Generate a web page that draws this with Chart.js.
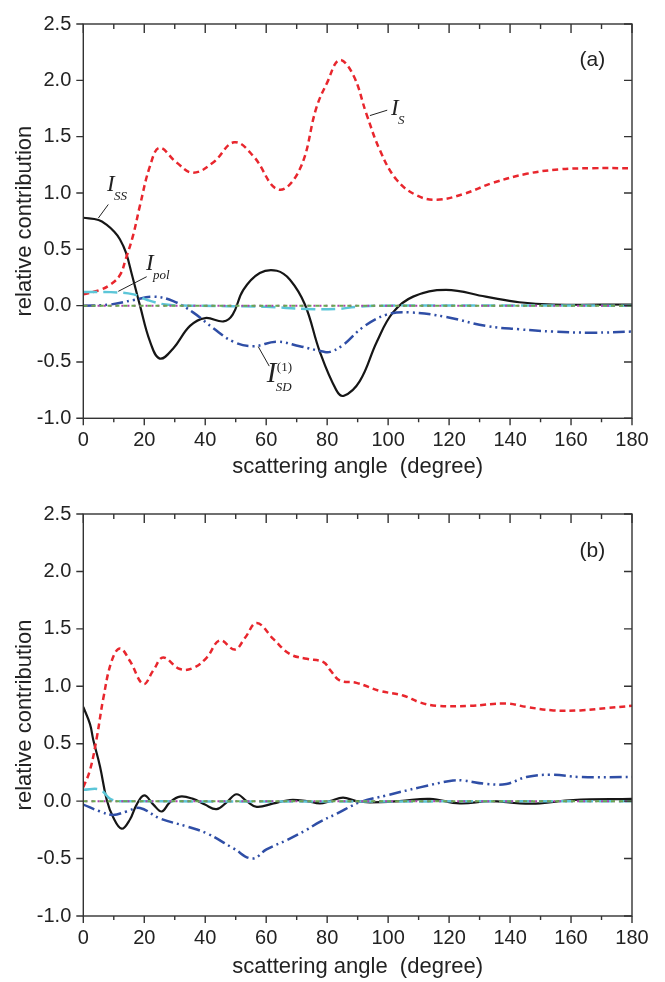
<!DOCTYPE html>
<html>
<head>
<meta charset="utf-8">
<script src="https://cdn.jsdelivr.net/npm/chart.js@4.4.1/dist/chart.umd.min.js"></script>
<style>
body { margin: 0; background: #fff; }
canvas { display: block; }
</style>
</head>
<body>
<canvas id="chartA" width="665" height="490"></canvas>
<canvas id="chartB" width="665" height="492"></canvas>
<script>
// panel (a)
var aSAngle = [0, 5.5, 9, 12, 14, 16.4, 18.6, 21.9, 25, 30.6, 36, 42.6, 49.5, 55.7, 64, 71, 76.5, 80, 84, 88.5, 92.9, 97.3, 102.7, 109.3, 116, 124.6, 134.4, 145.4, 156.3, 167, 180];
var aSValue = [0.10, 0.14, 0.19, 0.27, 0.42, 0.63, 0.89, 1.24, 1.40, 1.27, 1.18, 1.27, 1.45, 1.33, 1.03, 1.21, 1.76, 1.98, 2.18, 2.05, 1.70, 1.38, 1.12, 0.98, 0.94, 0.99, 1.09, 1.17, 1.21, 1.22, 1.22];

var aSSAngle = [0, 5, 8, 10, 12, 14, 16, 18.6, 21.9, 25.1, 29.5, 35, 40, 46, 49, 52.5, 57.9, 63.5, 67.8, 72.7, 77.6, 83, 85.5, 90.7, 96.3, 101.6, 108.2, 119, 132, 143, 154, 180];
var aSSValue = [0.78, 0.76, 0.71, 0.66, 0.59, 0.47, 0.27, 0.0, -0.32, -0.47, -0.38, -0.18, -0.11, -0.14, -0.08, 0.14, 0.29, 0.31, 0.23, 0.01, -0.41, -0.75, -0.80, -0.67, -0.32, -0.06, 0.08, 0.14, 0.08, 0.03, 0.01, 0.01];

var aSDAngle = [0, 8.8, 16.5, 23, 29.5, 36, 42.6, 49.2, 55.7, 63.4, 71, 79, 81, 85.2, 91.8, 99.5, 107, 119, 132, 143, 154, 167, 180];
var aSDValue = [0.0, 0.01, 0.05, 0.08, 0.04, -0.06, -0.20, -0.32, -0.36, -0.32, -0.36, -0.41, -0.41, -0.35, -0.19, -0.08, -0.06, -0.10, -0.18, -0.21, -0.23, -0.24, -0.23];

var aPolAngle = [0, 9, 16.5, 21, 27, 35, 60, 73, 83, 90, 100, 180];
var aPolValue = [0.12, 0.12, 0.10, 0.05, 0.01, 0.0, -0.01, -0.03, -0.03, -0.01, 0.0, 0.0];

// panel (b)
var bSAngle = [0, 2.2, 4.4, 6.6, 9.3, 12, 15.3, 19.7, 23, 26.2, 31.7, 36.1, 40.5, 44.8, 49.7, 53, 56.9, 62.4, 67.8, 73.3, 78.8, 81, 84.2, 89.6, 97.3, 104.9, 110.4, 116, 126.8, 138.8, 145.4, 154.2, 163, 171.6, 180];
var bSValue = [0.12, 0.27, 0.55, 0.90, 1.22, 1.33, 1.22, 1.02, 1.14, 1.25, 1.15, 1.16, 1.25, 1.40, 1.32, 1.42, 1.55, 1.41, 1.28, 1.24, 1.21, 1.14, 1.05, 1.03, 0.96, 0.92, 0.86, 0.83, 0.83, 0.85, 0.82, 0.79, 0.79, 0.81, 0.83];

var bSSAngle = [0, 2.2, 3.3, 5.5, 7.7, 9.8, 12.6, 15.3, 17.5, 20, 23, 25.7, 28.4, 31.7, 36, 39.9, 43.7, 47, 50.3, 53.6, 56.9, 62.4, 67.8, 73.3, 77.6, 80.9, 85.2, 89.6, 94, 103.8, 113.7, 123.5, 133.4, 143.2, 149.8, 160.7, 180];
var bSSValue = [0.82, 0.67, 0.53, 0.30, 0.01, -0.14, -0.24, -0.16, -0.03, 0.05, -0.03, -0.09, -0.01, 0.04, 0.02, -0.03, -0.07, -0.01, 0.06, 0.0, -0.05, -0.02, 0.01, 0.0, -0.02, 0.0, 0.03, 0.0, -0.01, 0.0, 0.02, -0.02, 0.0, -0.02, -0.02, 0.01, 0.02];

var bSDAngle = [0, 5.5, 9.8, 14.2, 18.6, 25.1, 33.9, 40.5, 49.2, 55.4, 60.1, 66.7, 73.2, 77.6, 83.1, 90.7, 99.5, 110.4, 121.3, 124.6, 132.3, 138.8, 145.4, 153, 163, 180];
var bSDValue = [-0.03, -0.09, -0.12, -0.09, -0.06, -0.15, -0.22, -0.28, -0.41, -0.50, -0.42, -0.34, -0.25, -0.18, -0.11, -0.01, 0.05, 0.12, 0.18, 0.18, 0.15, 0.15, 0.21, 0.23, 0.21, 0.21];

var bPolAngle = [0, 5.5, 8.8, 12, 180];
var bPolValue = [0.10, 0.10, 0.02, 0.0, 0.0];

// the small terms that stay on zero
var zeroAngle = [0, 180];
var zeroValue = [0, 0];

var xTicks = [0, 180, 20];
var yTicks = [-1, 2.5, 0.5];

var notesA = [
  { x: 7.77, y: 1.014, sub: 'SS', line: [8.2, 0.898, 4.92, 0.777] },
  { x: 20.56, y: 0.314, sub: 'pol', line: [20.79, 0.257, 11.48, 0.127] },
  { x: 60.2, y: -0.682, sub: 'SD', sup: '(1)', big: true, line: [61.0, -0.537, 57.39, -0.364] },
  { x: 100.9, y: 1.695, sub: 'S', line: [94.02, 1.687, 99.7, 1.735] }
];

function pts(xs, ys) {
  return xs.map(function (x, i) { return { x: x, y: ys[i] }; });
}

Chart.defaults.font.family = '"Liberation Sans", Arial, sans-serif';
Chart.defaults.color = '#222';

var framePlugin = {
  id: 'frame',
  afterDraw: function (chart) {
    var ctx = chart.ctx, a = chart.chartArea;
    var xs = chart.scales.x, ys = chart.scales.y;
    var opts = chart.options.plugins.frame;
    ctx.save();
    ctx.strokeStyle = '#333';
    ctx.lineWidth = 1.4;
    ctx.strokeRect(a.left, a.top, a.right - a.left, a.bottom - a.top);
    ctx.beginPath();
    var xt = xs.ticks.map(function (t) { return t.value; });
    xt.forEach(function (v, i) {
      var px = xs.getPixelForValue(v);
      ctx.moveTo(px, a.bottom); ctx.lineTo(px, a.bottom + 7);
      ctx.moveTo(px, a.top); ctx.lineTo(px, a.top + 9);
      if (i < xt.length - 1) {
        var pm = xs.getPixelForValue((v + xt[i + 1]) / 2);
        ctx.moveTo(pm, a.bottom); ctx.lineTo(pm, a.bottom + 4);
        ctx.moveTo(pm, a.top); ctx.lineTo(pm, a.top + 5);
      }
    });
    ys.ticks.forEach(function (t) {
      var py = ys.getPixelForValue(t.value);
      ctx.moveTo(a.left - 7, py); ctx.lineTo(a.left, py);
      ctx.moveTo(a.right, py); ctx.lineTo(a.right - 8, py);
    });
    ctx.stroke();

    // panel tag
    ctx.fillStyle = '#222';
    ctx.font = '21px "Liberation Sans", Arial, sans-serif';
    ctx.textAlign = 'center';
    ctx.textBaseline = 'middle';
    ctx.fillText(opts.tag, xs.getPixelForValue(167), ys.getPixelForValue(2.18));

    // curve labels
    ctx.textAlign = 'left';
    ctx.textBaseline = 'alphabetic';
    ctx.lineWidth = 1;
    ctx.strokeStyle = '#222';
    (opts.notes || []).forEach(function (n) {
      ctx.beginPath();
      ctx.moveTo(xs.getPixelForValue(n.line[0]), ys.getPixelForValue(n.line[1]));
      ctx.lineTo(xs.getPixelForValue(n.line[2]), ys.getPixelForValue(n.line[3]));
      ctx.stroke();
      var px = xs.getPixelForValue(n.x), py = ys.getPixelForValue(n.y);
      ctx.font = 'italic ' + (n.big ? 29 : 23) + 'px "Liberation Serif", serif';
      ctx.fillText('I', px, py);
      ctx.font = 'italic 13px "Liberation Serif", serif';
      ctx.fillText(n.sub, px + (n.big ? 9 : 7), py + 9);
      if (n.sup) {
        ctx.font = '13px "Liberation Serif", serif';
        ctx.fillText(n.sup, px + 10, py - 11);
      }
    });
    ctx.restore();
  }
};

function makeChart(id, tag, notes, series, padTop, xHeight, titlePad) {
  return new Chart(document.getElementById(id).getContext('2d'), {
    type: 'line',
    data: {
      datasets: [
        { data: pts(zeroAngle, zeroValue), borderColor: '#6aa84f', borderWidth: 2, borderDash: [4, 4] },
        { data: pts(zeroAngle, zeroValue), borderColor: '#b03cb0', borderWidth: 2, borderDash: [2, 4], borderDashOffset: 4 },
        { data: series.pol, borderColor: '#5cc6d8', borderWidth: 2.5, borderDash: [14, 6] },
        { data: series.sd, borderColor: '#2f4ea6', borderWidth: 2.5, borderDash: [12, 4, 2, 4, 2, 4] },
        { data: series.s, borderColor: '#e8262d', borderWidth: 2.5, borderDash: [6, 4] },
        { data: series.ss, borderColor: '#161616', borderWidth: 2.2 }
      ]
    },
    options: {
      responsive: false,
      animation: false,
      devicePixelRatio: 1,
      layout: { padding: { top: padTop, right: 33, left: 0, bottom: 0 } },
      elements: {
        point: { radius: 0 },
        line: { tension: 0.4, fill: false }
      },
      plugins: {
        legend: { display: false },
        tooltip: { enabled: false },
        frame: { tag: tag, notes: notes }
      },
      scales: {
        x: {
          type: 'linear', min: xTicks[0], max: xTicks[1],
          ticks: { stepSize: xTicks[2], padding: 10, font: { size: 20 }, maxRotation: 0, autoSkip: false },
          grid: { display: false, drawTicks: false },
          border: { display: false },
          title: { display: true, text: 'scattering angle  (degree)', font: { size: 22 }, padding: { top: 0, bottom: titlePad } },
          afterFit: function (s) { s.height = xHeight; }
        },
        y: {
          min: yTicks[0], max: yTicks[1],
          ticks: { stepSize: yTicks[2], padding: 12, font: { size: 20 }, callback: function (v) { return v.toFixed(1); } },
          grid: { display: false, drawTicks: false },
          border: { display: false },
          title: { display: true, text: 'relative contribution', font: { size: 22 }, padding: { top: 12 } },
          afterFit: function (s) { s.width = 83.3; }
        }
      }
    },
    plugins: [framePlugin]
  });
}

makeChart('chartA', '(a)', notesA, {
  s: pts(aSAngle, aSValue), ss: pts(aSSAngle, aSSValue), sd: pts(aSDAngle, aSDValue), pol: pts(aPolAngle, aPolValue)
}, 14.3, 71.7, 10);

makeChart('chartB', '(b)', [], {
  s: pts(bSAngle, bSValue), ss: pts(bSSAngle, bSSValue), sd: pts(bSDAngle, bSDValue), pol: pts(bPolAngle, bPolValue)
}, 22.7, 66, 2);
</script>
</body>
</html>
